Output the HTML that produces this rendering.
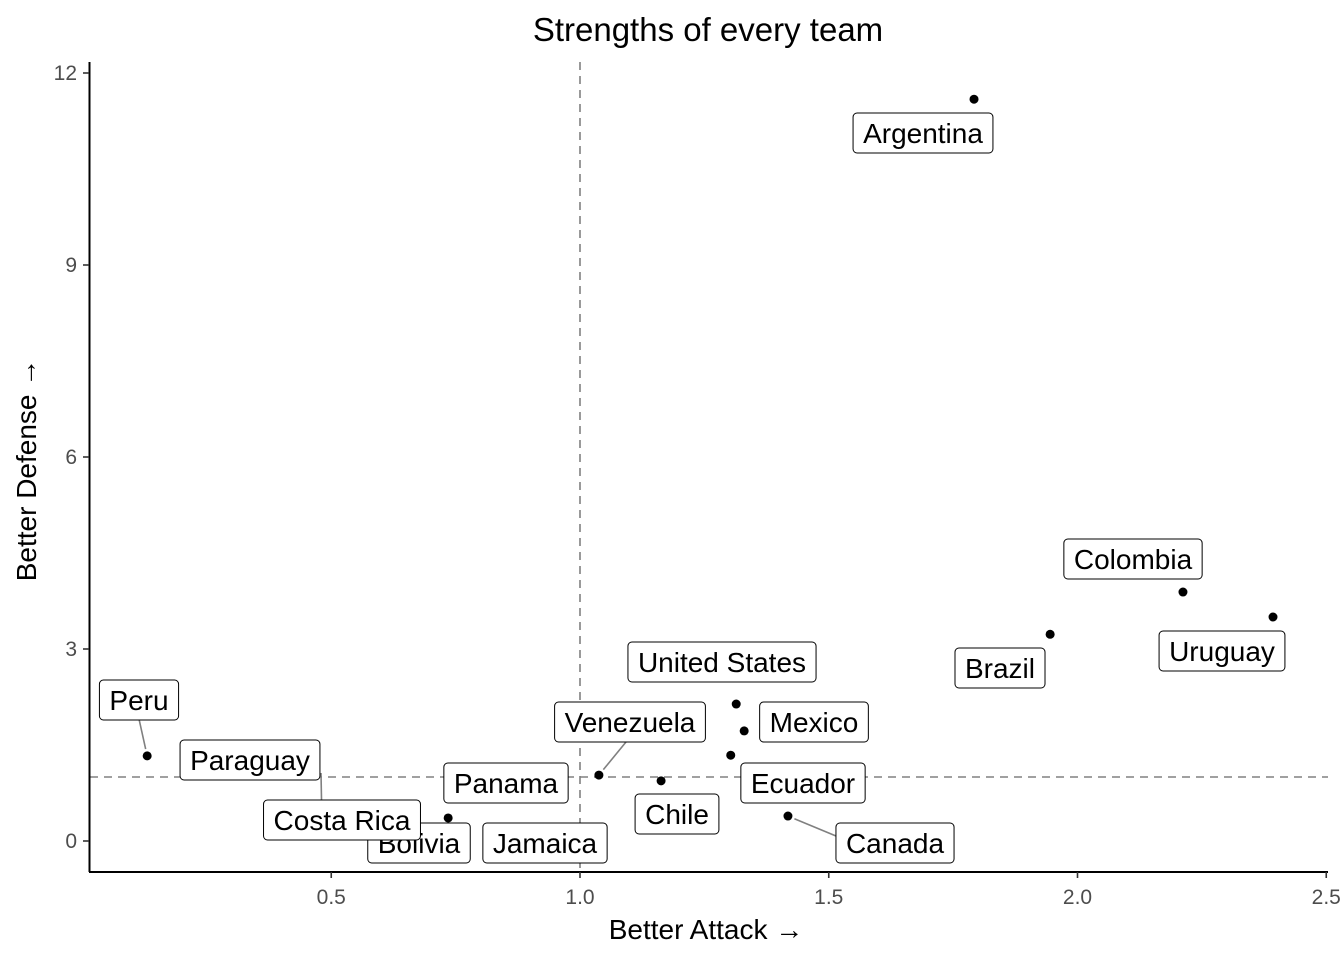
<!DOCTYPE html>
<html><head><meta charset="utf-8"><style>
html,body{margin:0;padding:0;background:#fff;}
svg{display:block;font-family:"Liberation Sans",Arial,sans-serif;}
</style></head><body>
<svg id="chart" width="1344" height="960" viewBox="0 0 1344 960" xmlns="http://www.w3.org/2000/svg">
<rect width="1344" height="960" fill="#fff"/>
<text x="708" y="41" font-size="33" text-anchor="middle" fill="#000">Strengths of every team</text>
<g id="grid"></g>
<g id="points"></g>
<g id="labels"></g>
<g id="axes"></g>
<text x="706" y="939" font-size="28" text-anchor="middle" fill="#000">Better Attack →</text>
<text transform="translate(36,470) rotate(-90)" font-size="28" text-anchor="middle" fill="#000">Better Defense →</text>
</svg>
<script>
const teams = ["Argentina","Colombia","Uruguay","Brazil","United States","Mexico","Ecuador","Chile","Canada","Venezuela","Jamaica","Costa Rica","Bolivia","Panama","Paraguay","Peru"];
const attack = [1.792,2.212,2.393,1.945,1.314,1.330,1.303,1.163,1.418,1.038,1.038,0.735,0.676,0.920,0.481,0.130];
const defense = [11.59,3.89,3.50,3.23,2.14,1.72,1.34,0.94,0.39,1.03,0.14,0.36,-0.06,0.17,0.41,1.33];
const xTicks = [0.5,1.0,1.5,2.0,2.5];
const xTickLabels = ["0.5","1.0","1.5","2.0","2.5"];
const yTicks = [0,3,6,9,12];
const yTickLabels = ["0","3","6","9","12"];
const refX = 1.0, refY = 1.0;
const labelPos = {"Argentina":[923,133],"Colombia":[1133,559],"Uruguay":[1222,651],"Brazil":[1000,668],"United States":[722,662],"Mexico":[814,722],"Ecuador":[803,783],"Chile":[677,814],"Canada":[895,843],"Venezuela":[630,722],"Jamaica":[545,843],"Bolivia":[419,843],"Costa Rica":[342,820],"Panama":[506,783],"Paraguay":[250,760],"Peru":[139,700]};
const leaders = {"Peru":[139,719],"Paraguay":[321,773],"Venezuela":[626,742],"Canada":[836,836]};
const drawOrder = ["Argentina","Colombia","Uruguay","Brazil","United States","Mexico","Venezuela","Peru","Paraguay","Panama","Ecuador","Chile","Bolivia","Costa Rica","Jamaica","Canada"];

const NS="http://www.w3.org/2000/svg";
const xs = v => 580 + (v-1)*497.5;
const ys = v => 841 - v*64;
function mk(tag, attrs, parent){const e=document.createElementNS(NS,tag);for(const k in attrs)e.setAttribute(k,attrs[k]);parent.appendChild(e);return e;}
const grid=document.getElementById('grid'), pts=document.getElementById('points'), labs=document.getElementById('labels'), axes=document.getElementById('axes');

let l=mk('line',{x1:xs(refX),x2:xs(refX),y1:62,y2:872,stroke:'#808080','stroke-width':1.6,'stroke-dasharray':'8,6'},grid);


l=mk('line',{x1:90,x2:1328,y1:ys(refY),y2:ys(refY),stroke:'#808080','stroke-width':1.6,'stroke-dasharray':'8,6'},grid);



teams.forEach((t,i)=>{
  const c=mk('circle',{cx:xs(attack[i]),cy:ys(defense[i]),r:4.5,fill:'#000'},pts);
  
  
});
Object.keys(leaders).forEach(t=>{
  const i=teams.indexOf(t);
  const s=mk('line',{x1:leaders[t][0],y1:leaders[t][1],x2:xs(attack[i]),y2:ys(defense[i]),stroke:'#808080','stroke-width':1.6},pts);
  
  
});
[...pts.querySelectorAll('line')].forEach(s=>{
  const x1=+s.getAttribute('x1'),y1=+s.getAttribute('y1'),x2=+s.getAttribute('x2'),y2=+s.getAttribute('y2');
  const d=Math.hypot(x2-x1,y2-y1);if(d>8){s.setAttribute('x2',x2-(x2-x1)*7/d);s.setAttribute('y2',y2-(y2-y1)*7/d);}
});

drawOrder.forEach(t=>{
  const [cx,cy]=labelPos[t];
  const g=mk('g',{},labs);
  
  
  const tx=mk('text',{x:cx,y:cy+10,'font-size':28,'text-anchor':'middle',fill:'#000'},g);
  tx.textContent=t;
  const w=tx.getComputedTextLength()+20;
  const r=mk('rect',{x:cx-w/2,y:cy-20,width:w,height:40,rx:4,fill:'#fff',stroke:'#000','stroke-width':1},g);
  g.insertBefore(r,tx);
});

l=mk('line',{x1:89.5,x2:89.5,y1:62,y2:872,stroke:'#000','stroke-width':2},axes);


l=mk('line',{x1:89,x2:1328,y1:872,y2:872,stroke:'#000','stroke-width':2},axes);


xTicks.forEach((v,i)=>{
  const tk=mk('line',{x1:xs(v),x2:xs(v),y1:872,y2:878,stroke:'#333','stroke-width':1.6},axes);
  
  
  const tl=mk('text',{x:xs(v),y:904,'font-size':21,'text-anchor':'middle',fill:'#4d4d4d'},axes);
  tl.textContent=xTickLabels[i];
  
  
});
yTicks.forEach((v,i)=>{
  const tk=mk('line',{x1:83,x2:89,y1:ys(v),y2:ys(v),stroke:'#333','stroke-width':1.6},axes);
  
  
  const tl=mk('text',{x:77,y:ys(v)+7,'font-size':21,'text-anchor':'end',fill:'#4d4d4d'},axes);
  tl.textContent=yTickLabels[i];
  
  
});
</script>
</body></html>
